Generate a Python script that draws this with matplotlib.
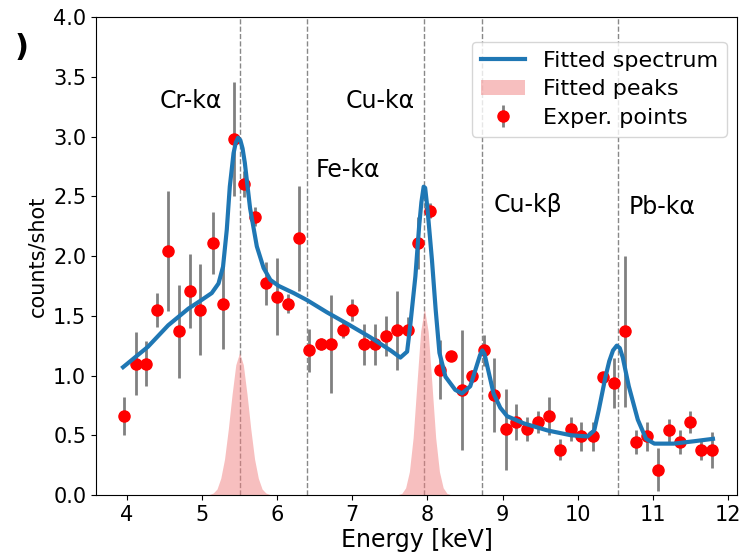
import matplotlib.pyplot as plt

energy = [3.96, 4.12, 4.26, 4.40, 4.55, 4.69, 4.84, 4.98, 5.14, 5.28,
          5.43, 5.56, 5.70, 5.85, 6.00, 6.15, 6.29, 6.43, 6.58, 6.72,
          6.87, 7.00, 7.15, 7.30, 7.45, 7.60, 7.74, 7.87, 8.03, 8.17,
          8.32, 8.46, 8.60, 8.75, 8.89, 9.04, 9.18, 9.32, 9.47, 9.62,
          9.76, 9.91, 10.05, 10.20, 10.34, 10.48, 10.63, 10.77, 10.92, 11.07,
          11.21, 11.36, 11.50, 11.64, 11.79]
counts = [0.66, 1.10, 1.10, 1.55, 2.04, 1.37, 1.71, 1.55, 2.11, 1.60,
          2.98, 2.60, 2.33, 1.77, 1.66, 1.60, 2.15, 1.21, 1.26, 1.26,
          1.38, 1.55, 1.26, 1.26, 1.33, 1.38, 1.38, 2.11, 2.38, 1.05,
          1.16, 0.88, 1.00, 1.21, 0.84, 0.55, 0.61, 0.55, 0.61, 0.66,
          0.38, 0.55, 0.49, 0.49, 0.99, 0.94, 1.37, 0.44, 0.49, 0.21,
          0.54, 0.44, 0.61, 0.38, 0.38]
errors = [0.16, 0.26, 0.19, 0.14, 0.50, 0.39, 0.31, 0.38, 0.26, 0.38,
          0.48, 0.11, 0.08, 0.18, 0.32, 0.08, 0.44, 0.18, 0.05, 0.41,
          0.07, 0.09, 0.17, 0.17, 0.17, 0.33, 0.11, 0.22, 0.06, 0.25,
          0.03, 0.50, 0.05, 0.13, 0.31, 0.34, 0.15, 0.10, 0.09, 0.16,
          0.09, 0.10, 0.12, 0.12, 0.03, 0.21, 0.63, 0.10, 0.12, 0.18,
          0.10, 0.10, 0.09, 0.09, 0.15]

# Fitted spectrum, sampled along the drawn curve
fit_x = [3.95, 4.28, 4.55, 4.82, 4.99, 5.13, 5.22, 5.28, 5.33, 5.37,
         5.42, 5.45, 5.48, 5.51, 5.54, 5.57, 5.64, 5.73, 5.82, 5.91,
         6.02, 6.22, 6.40, 6.66, 6.97, 7.24, 7.51, 7.64, 7.73, 7.77,
         7.84, 7.89, 7.92, 7.95, 7.97, 8.00, 8.06, 8.11, 8.16, 8.24,
         8.37, 8.46, 8.57, 8.65, 8.70, 8.73, 8.76, 8.80, 8.88, 8.97,
         9.06, 9.28, 9.60, 9.91, 10.13, 10.22, 10.28, 10.37, 10.42, 10.47,
         10.52, 10.56, 10.60, 10.64, 10.68, 10.80, 10.91, 11.02, 11.28, 11.55,
         11.80]
fit_y = [1.07, 1.24, 1.42, 1.56, 1.63, 1.69, 1.77, 1.91, 2.22, 2.58,
         2.86, 2.95, 2.99, 2.97, 2.90, 2.78, 2.40, 2.08, 1.90, 1.80,
         1.75, 1.69, 1.63, 1.53, 1.42, 1.32, 1.21, 1.15, 1.20, 1.41,
         1.83, 2.25, 2.45, 2.58, 2.57, 2.40, 1.97, 1.55, 1.19, 0.99,
         0.88, 0.85, 0.91, 1.07, 1.17, 1.21, 1.18, 1.07, 0.85, 0.73,
         0.66, 0.60, 0.54, 0.50, 0.49, 0.54, 0.71, 0.99, 1.12, 1.21,
         1.25, 1.23, 1.15, 1.03, 0.91, 0.63, 0.47, 0.43, 0.43, 0.45,
         0.47]

# Fitted peaks (Cr-ka and Cu-ka)
cr_x = [5.05, 5.10, 5.15, 5.20, 5.25, 5.30, 5.35, 5.40, 5.45, 5.50,
        5.55, 5.60, 5.65, 5.70, 5.75, 5.80, 5.85, 5.90, 5.95]
cr_y = [0.001, 0.005, 0.017, 0.05, 0.14, 0.30, 0.55, 0.84, 1.09, 1.19,
        1.09, 0.84, 0.55, 0.30, 0.14, 0.05, 0.017, 0.005, 0.001]
cu_x = [7.56, 7.61, 7.66, 7.71, 7.76, 7.81, 7.86, 7.91, 7.96, 8.01,
        8.06, 8.11, 8.16, 8.21, 8.26, 8.31, 8.36]
cu_y = [0.0, 0.003, 0.014, 0.06, 0.195, 0.48, 0.93, 1.37, 1.56, 1.37,
        0.93, 0.48, 0.195, 0.06, 0.014, 0.003, 0.0]

# Line positions and labels
line_pos = [5.50, 6.40, 7.96, 8.73, 10.54]
label_text = ['Cr-kα', 'Fe-kα', 'Cu-kα', 'Cu-kβ', 'Pb-kα']
label_x = [4.44, 6.51, 6.91, 8.88, 10.68]
label_y = [3.30, 2.72, 3.30, 2.43, 2.41]

fig = plt.figure(figsize=(7.41, 5.56), dpi=100)
ax = fig.add_axes([0.1296, 0.1097, 0.8650, 0.8597])

for xv in line_pos:
    ax.axvline(xv, color='#888888', linestyle='--', linewidth=1.0, zorder=1)

ax.fill_between(cr_x, 0, cr_y, color='lightcoral', alpha=0.5, linewidth=0,
                label='Fitted peaks', zorder=2)
ax.fill_between(cu_x, 0, cu_y, color='lightcoral', alpha=0.5, linewidth=0, zorder=2)

ax.plot(fit_x, fit_y, color='#1f77b4', linewidth=3, label='Fitted spectrum', zorder=4)

ax.errorbar(energy, counts, yerr=errors, fmt='o', color='red', markersize=8,
            ecolor='gray', elinewidth=2, capsize=0, label='Exper. points', zorder=3)

for t, xv, yv in zip(label_text, label_x, label_y):
    ax.text(xv, yv, t, fontsize=17, ha='left', va='center')

ax.set_xlim(3.59, 12.12)
ax.set_ylim(0, 4.0)
ax.set_xticks(range(4, 13))
ax.set_yticks([0.0, 0.5, 1.0, 1.5, 2.0, 2.5, 3.0, 3.5, 4.0])
ax.set_yticklabels(['0.0', '0.5', '1.0', '1.5', '2.0', '2.5', '3.0', '3.5', '4.0'])
ax.tick_params(labelsize=15)
ax.set_xlabel('Energy [keV]', fontsize=17, labelpad=2)
ax.set_ylabel('counts/shot', fontsize=15, labelpad=4)

handles, labels = ax.get_legend_handles_labels()
order = [labels.index(l) for l in ['Fitted spectrum', 'Fitted peaks', 'Exper. points']]
ax.legend([handles[i] for i in order], [labels[i] for i in order],
          loc='upper right', fontsize=16, bbox_to_anchor=(0.984, 0.948),
          handlelength=2.0, labelspacing=0.38, borderaxespad=0.0)

fig.text(0.02, 0.915, ')', fontsize=22, fontweight='bold', va='center')

plt.savefig('out.png', dpi=100)
